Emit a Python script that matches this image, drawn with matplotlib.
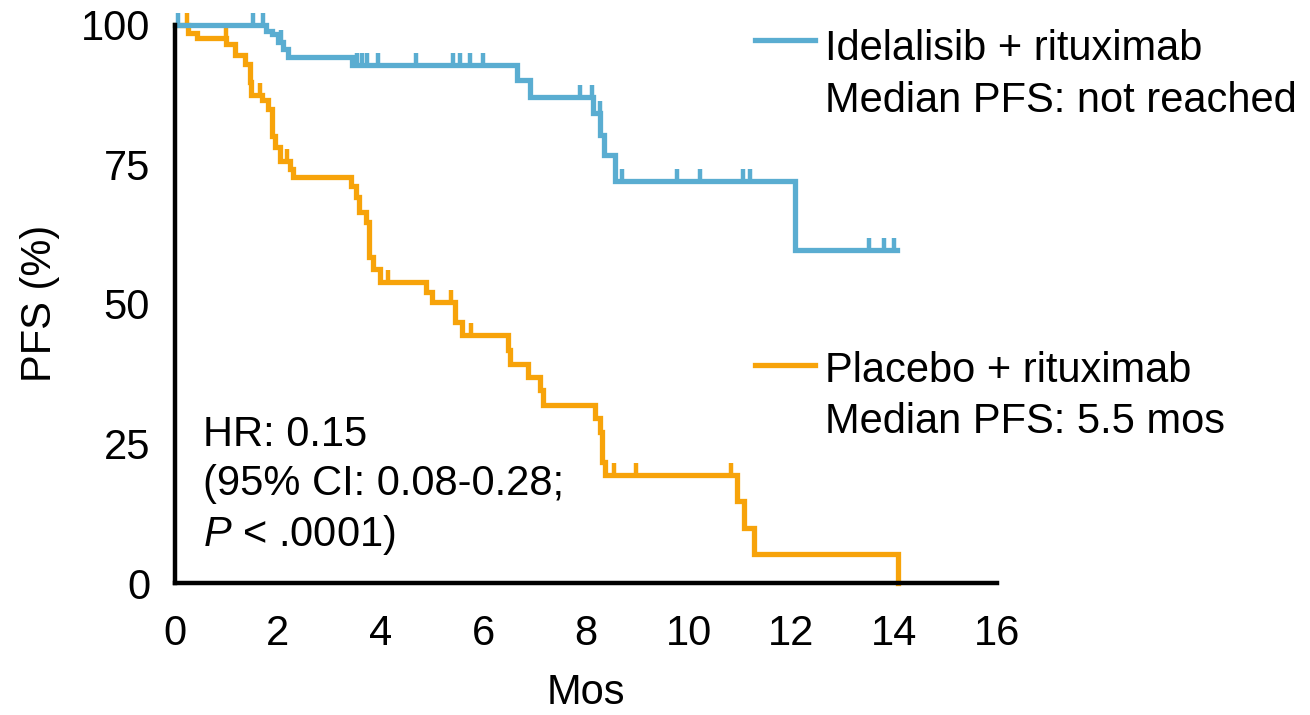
import numpy as np
import matplotlib
matplotlib.use("Agg")
import matplotlib.pyplot as plt
from matplotlib.path import Path
from matplotlib.lines import Line2D

plt.rcParams["font.family"] = ["Liberation Sans", "DejaVu Sans"]
plt.rcParams["mathtext.fontset"] = "custom"
plt.rcParams["mathtext.rm"] = "Liberation Sans"
plt.rcParams["mathtext.it"] = "Liberation Sans:italic"

# Idelalisib + rituximab: step times (mos) and PFS (%) after each step
idela_t = [0, 1.78, 1.88, 2.0, 2.1, 2.2, 3.44, 6.65, 6.91, 8.13, 8.28, 8.35, 8.56, 12.06, 14.05]
idela_s = [100, 98.9, 98.3, 96.9, 95.7, 94.2, 92.7, 90.0, 87.0, 84.1, 80.3, 76.6, 71.9, 59.6, 59.6]
idela_cens = [0.05, 1.52, 1.71, 2.06, 3.54, 3.64, 3.74, 3.95, 4.7, 5.41, 5.55, 5.74, 6.0,
              7.88, 8.11, 8.27, 8.7, 9.77, 10.21, 11.05, 11.2, 13.5, 13.8, 14.0]

# Placebo + rituximab
plac_t = [0, 0.25, 0.42, 1.0, 1.17, 1.36, 1.46, 1.47, 1.69, 1.81, 1.88, 1.95, 2.04, 2.24, 2.3,
          3.43, 3.53, 3.58, 3.71, 3.78, 3.85, 3.99, 4.88, 5.01, 5.45, 5.58, 6.48, 6.52, 6.87,
          7.1, 7.17, 8.17, 8.27, 8.32, 8.37, 10.93, 11.07, 11.26, 14.07]
plac_s = [100, 98.5, 97.5, 96.6, 94.6, 92.9, 89.7, 87.3, 86.4, 84.9, 80.1, 78.0, 75.6, 74.2, 72.7,
          71.0, 69.1, 66.4, 64.6, 58.3, 56.3, 53.9, 52.1, 50.3, 46.8, 44.4, 41.8, 39.3, 36.9,
          34.5, 31.8, 29.5, 27.1, 21.7, 19.3, 14.6, 9.8, 5.2, 0]
plac_cens = [0.24, 0.99, 1.65, 2.18, 4.15, 5.38, 5.77, 8.54, 8.97, 10.83]

x_ticks = [0, 2, 4, 6, 8, 10, 12, 14, 16]
y_ticks = [0, 25, 50, 75, 100]

BLUE = "#5AADD1"
ORANGE = "#F7A30A"

# upward-only censor tick
tick_marker = Path([(0, 0), (0, 1)])


def level_at(times, surv, c):
    idx = np.searchsorted(times, c, side="right") - 1
    return np.asarray(surv)[idx]


fig = plt.figure(figsize=(13.1, 7.15), dpi=100)
ax = fig.add_axes([0.1336, 0.1846, 0.6275, 0.7811])

for t, s, cens, col in [(plac_t, plac_s, plac_cens, ORANGE),
                        (idela_t, idela_s, idela_cens, BLUE)]:
    ax.step(t, s, where="post", color=col, lw=3.8, solid_joinstyle="miter", clip_on=False)
    ax.plot(cens, level_at(t, s, cens), linestyle="none", marker=tick_marker,
            markersize=18, markeredgewidth=3.2, color=col, clip_on=False)

ax.set_xlim(0, 16)
ax.set_ylim(0, 100)
ax.set_xticks(x_ticks)
ax.set_yticks(y_ticks)
ax.tick_params(length=0, labelsize=30)
ax.tick_params(axis="y", pad=18)
ax.tick_params(axis="x", pad=22)
for side in ["top", "right"]:
    ax.spines[side].set_visible(False)
for side in ["left", "bottom"]:
    ax.spines[side].set_linewidth(3.2)
ax.set_xlabel("Mos", fontsize=30, labelpad=14)
ax.set_ylabel("PFS (%)", fontsize=30, labelpad=15)

ax.text(0.034, 0.245, "HR: 0.15", transform=ax.transAxes, fontsize=30, va="baseline")
ax.text(0.034, 0.157, "(95% CI: 0.08-0.28;", transform=ax.transAxes, fontsize=30, va="baseline")
ax.text(0.034, 0.066, "$\\mathit{P}$ < .0001)", transform=ax.transAxes, fontsize=30, va="baseline")

# legend
fig.add_artist(Line2D([755 / 1310, 815 / 1310], [1 - 40 / 715] * 2, color=BLUE, lw=3.8))
fig.add_artist(Line2D([755 / 1310, 815 / 1310], [1 - 365 / 715] * 2, color=ORANGE, lw=3.8))
fig.text(825 / 1310, 1 - 60 / 715, "Idelalisib + rituximab", fontsize=30, va="baseline")
fig.text(825 / 1310, 1 - 112 / 715, "Median PFS: not reached", fontsize=30, va="baseline")
fig.text(825 / 1310, 1 - 382 / 715, "Placebo + rituximab", fontsize=30, va="baseline")
fig.text(825 / 1310, 1 - 433 / 715, "Median PFS: 5.5 mos", fontsize=30, va="baseline")

fig.savefig("out.png", dpi=100)
